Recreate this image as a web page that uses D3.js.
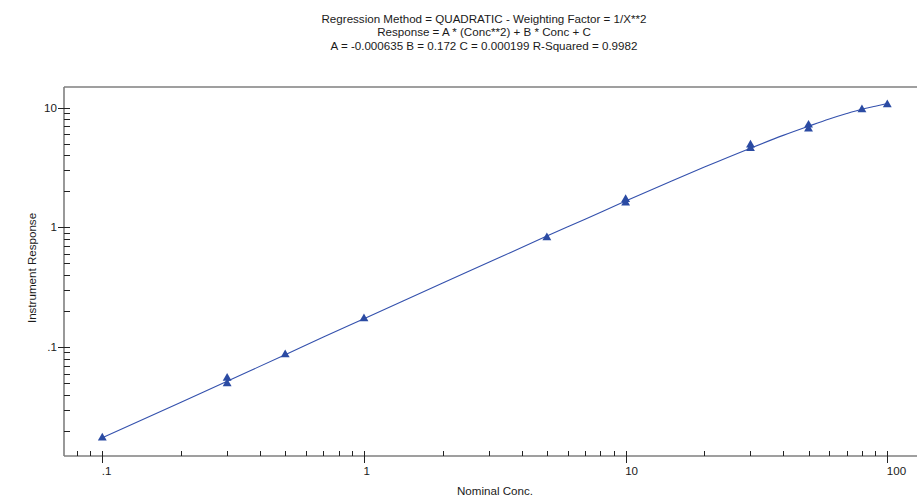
<!DOCTYPE html>
<html lang="en">
<head>
    <meta charset="UTF-8">
    <title>Calibration curve</title>
    <script src="https://d3js.org/d3.v7.min.js"></script>
    <style>
        body { margin: 0; background: #fff; }
        text { font-family: "Liberation Sans", Arial, sans-serif; font-size: 11.6px; fill: #1a1a1a; }
    </style>
</head>
<body>
    <div id="chart"></div>

    <script type="text/javascript">
        // chart size
        var width = 917;
        var height = 499;

        // title lines
        var titleLines = [
            "Regression Method = QUADRATIC - Weighting Factor = 1/X**2",
            "Response = A * (Conc**2) + B * Conc + C",
            "A = -0.000635 B = 0.172 C = 0.000199 R-Squared = 0.9982"
        ];

        // measured standards (concentration, response)
        var stdConc = [0.1, 0.3, 0.3, 0.5, 1, 5, 10, 10, 30, 30, 50, 50, 80, 100];
        var stdResp = [0.0174, 0.0549, 0.0494, 0.0864, 0.1726, 0.82, 1.71, 1.60, 4.88, 4.57, 7.16, 6.66, 9.62, 10.6];

        // fitted curve
        var fitConc = [0.1, 0.2, 0.3, 0.5, 0.7, 1, 2, 3, 5, 7, 10, 15, 20, 30, 40, 50, 60, 70, 80, 90, 100];
        var fitResp = [0.0174, 0.0346, 0.0518, 0.086, 0.121, 0.172, 0.342, 0.51, 0.845, 1.17, 1.66, 2.44, 3.19, 4.59, 5.87, 7.0, 8.04, 8.93, 9.7, 10.3, 10.85];

        // tick values
        var xMajor = [0.1, 1, 10, 100];
        var xMajorLabels = [".1", "1", "10", "100"];
        var xMinor = [0.08, 0.09, 0.2, 0.3, 0.4, 0.5, 0.6, 0.7, 0.8, 0.9,
                      2, 3, 4, 5, 6, 7, 8, 9, 20, 30, 40, 50, 60, 70, 80, 90];
        var yMajor = [0.1, 1, 10];
        var yMajorLabels = [".1", "1", "10"];
        var yMinor = [0.02, 0.03, 0.04, 0.05, 0.06, 0.07, 0.08, 0.09,
                      0.2, 0.3, 0.4, 0.5, 0.6, 0.7, 0.8, 0.9,
                      2, 3, 4, 5, 6, 7, 8, 9];

        // plot frame
        var plotLeft = 64, plotTop = 87, plotBottom = 456, plotRight = 930;

        var x = d3.scaleLog().domain([0.1, 100]).range([102.3, 887.3]);
        var y = d3.scaleLog().domain([0.1, 10]).range([347, 107.7]);

        var svg = d3.select("#chart").append("svg")
            .attr("width", width)
            .attr("height", height);

        // title
        svg.selectAll(".title")
            .data(titleLines)
            .enter().append("text")
            .attr("x", 484)
            .attr("y", function(d, i) { return 23 + i * 13.3; })
            .attr("text-anchor", "middle")
            .text(function(d) { return d; });

        // frame lines
        var frame = svg.append("g")
            .attr("stroke", "#7f7f7f")
            .attr("stroke-width", 1.6);
        frame.append("line").attr("x1", plotLeft).attr("x2", plotRight).attr("y1", plotTop).attr("y2", plotTop);
        frame.append("line").attr("x1", plotLeft).attr("x2", plotLeft).attr("y1", plotTop).attr("y2", plotBottom);
        frame.append("line").attr("x1", plotLeft).attr("x2", plotRight).attr("y1", plotBottom).attr("y2", plotBottom);

        // x ticks
        var ticks = svg.append("g").attr("stroke", "#222").attr("stroke-width", 1);
        ticks.selectAll(".xmin").data(xMinor).enter().append("line")
            .attr("x1", function(d) { return Math.round(x(d)) + 0.5; })
            .attr("x2", function(d) { return Math.round(x(d)) + 0.5; })
            .attr("y1", plotBottom - 5).attr("y2", plotBottom);
        ticks.selectAll(".xmaj").data(xMajor).enter().append("line")
            .attr("x1", function(d) { return Math.round(x(d)) + 0.5; })
            .attr("x2", function(d) { return Math.round(x(d)) + 0.5; })
            .attr("y1", plotBottom - 5).attr("y2", plotBottom + 7);

        // y ticks
        ticks.selectAll(".ymin").data(yMinor).enter().append("line")
            .attr("x1", plotLeft).attr("x2", plotLeft + 6)
            .attr("y1", function(d) { return Math.round(y(d)) + 0.5; })
            .attr("y2", function(d) { return Math.round(y(d)) + 0.5; });
        ticks.selectAll(".ymaj").data(yMajor).enter().append("line")
            .attr("x1", plotLeft - 6).attr("x2", plotLeft + 6)
            .attr("y1", function(d) { return Math.round(y(d)) + 0.5; })
            .attr("y2", function(d) { return Math.round(y(d)) + 0.5; });

        // tick labels
        svg.selectAll(".xlab").data(xMajor).enter().append("text")
            .attr("x", function(d) { return x(d) - 0.5; })
            .attr("y", 475)
            .text(function(d, i) { return xMajorLabels[i]; });
        svg.selectAll(".ylab").data(yMajor).enter().append("text")
            .attr("x", 57)
            .attr("y", function(d) { return y(d) + 4; })
            .attr("text-anchor", "end")
            .text(function(d, i) { return yMajorLabels[i]; });

        // axis titles
        svg.append("text")
            .attr("x", 495).attr("y", 495)
            .attr("text-anchor", "middle")
            .text("Nominal Conc.");
        svg.append("text")
            .attr("transform", "translate(36,268) rotate(-90)")
            .attr("text-anchor", "middle")
            .text("Instrument Response");

        // fitted curve
        var fitData = fitConc.map(function(c, i) { return [c, fitResp[i]]; });
        svg.append("path")
            .datum(fitData)
            .attr("fill", "none")
            .attr("stroke", "#3451ad")
            .attr("stroke-width", 1.1)
            .attr("d", d3.line()
                .x(function(d) { return x(d[0]); })
                .y(function(d) { return y(d[1]); })
                .curve(d3.curveMonotoneX));

        // standards as triangles
        var tri = d3.symbol().type(d3.symbolTriangle).size(34);
        svg.selectAll(".pt")
            .data(stdConc)
            .enter().append("path")
            .attr("d", tri)
            .attr("fill", "#2b4ba3")
            .attr("transform", function(d, i) {
                return "translate(" + x(d) + "," + y(stdResp[i]) + ")";
            });
    </script>
</body>
</html>
